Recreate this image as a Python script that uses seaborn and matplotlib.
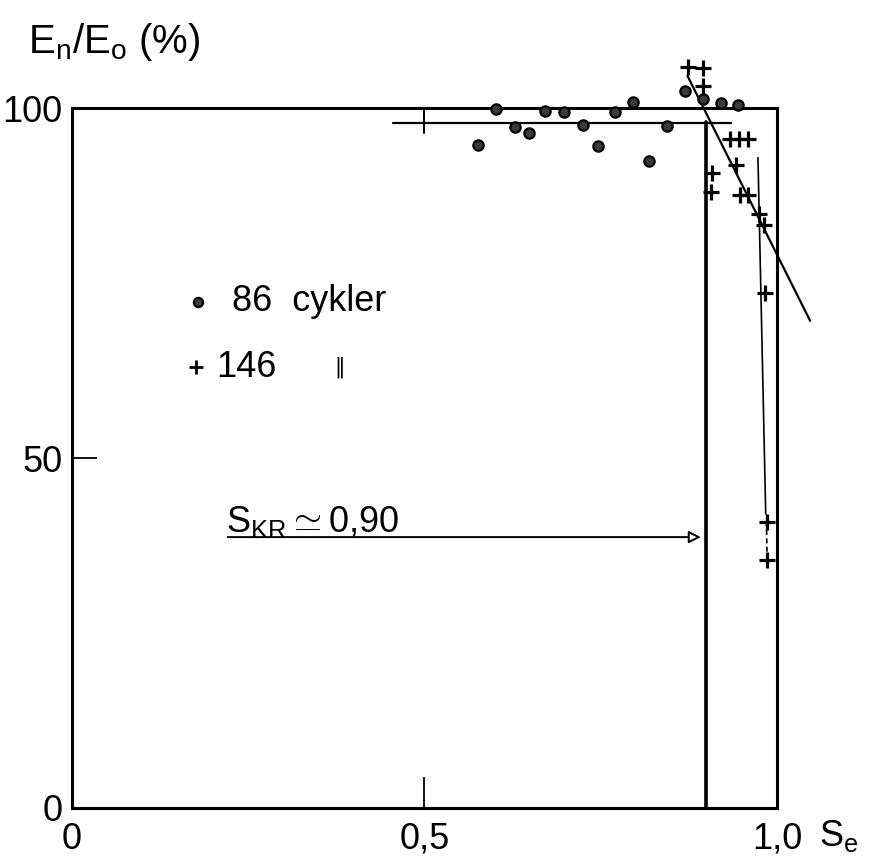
import matplotlib
matplotlib.use("Agg")
import matplotlib.pyplot as plt
import seaborn as sns

# S_e and E_n/E_o (%)
cyc86_s = [0.576, 0.601, 0.628, 0.648, 0.671, 0.698, 0.725, 0.746,
           0.770, 0.796, 0.818, 0.844, 0.870, 0.895, 0.920, 0.945]
cyc86_e = [94.7, 99.9, 97.3, 96.4, 99.6, 99.5, 97.6, 94.6,
           99.4, 100.9, 92.4, 97.4, 102.4, 101.3, 100.7, 100.4]

cyc146_s = [0.874, 0.895, 0.895, 0.933, 0.946, 0.959, 0.942, 0.908,
            0.906, 0.948, 0.959, 0.974, 0.981, 0.983, 0.986, 0.986]
cyc146_e = [105.9, 105.7, 103.1, 95.6, 95.6, 95.6, 91.9, 90.7,
            88.0, 87.6, 87.6, 84.9, 83.3, 73.6, 40.9, 35.4]

# hand-drawn fit lines
level_s = [0.455, 0.935]
level_e = [97.8, 97.8]
s_kr = 0.90
kr_e = [0, 98.0]
slope_s = [0.873, 1.047]
slope_e = [104.6, 69.6]
thin_s = [0.973, 0.984]
thin_e = [92.9, 42.0]

xticks = [0, 0.5, 1.0]
xlabels = ["0", "0,5", "1,0"]
yticks = [0, 50, 100]
ylabels = ["0", "50", "100"]
yminor = [10, 20, 30, 40, 60, 70, 80, 90]

sns.set_theme(style="white")
plt.rcParams["font.family"] = ["Liberation Sans", "DejaVu Sans"]
plt.rcParams["mathtext.fontset"] = "custom"
plt.rcParams["mathtext.rm"] = "Liberation Sans"
plt.rcParams["text.color"] = "black"

FS = 26

fig = plt.figure(figsize=(8.8, 8.65), dpi=100)
ax = fig.add_axes([0, 0, 1, 1])
ax.set_xlim(-0.1021, 1.1461)
ax.set_ylim(-8.143, 115.43)

# frame: box from 0..1 and 0..100
for side in ["left", "bottom", "top", "right"]:
    ax.spines[side].set_color("black")
    ax.spines[side].set_linewidth(2.2)
ax.spines["left"].set_position(("data", 0))
ax.spines["bottom"].set_position(("data", 0))
ax.spines["top"].set_position(("data", 100))
ax.spines["right"].set_position(("data", 1.0))
ax.spines["left"].set_bounds(0, 100)
ax.spines["right"].set_bounds(0, 100)
ax.spines["bottom"].set_bounds(0, 1.0)
ax.spines["top"].set_bounds(0, 1.0)

ax.set_xticks(xticks, xlabels)
ax.set_yticks(yticks, ylabels)
ax.set_yticks(yminor, minor=True)
ax.tick_params(axis="x", direction="in", length=22, width=1.3, pad=10,
               labelsize=FS, colors="black", top=False, bottom=True)
ax.tick_params(axis="y", direction="in", length=18, width=1.3, pad=7,
               labelsize=FS, colors="black", right=False, left=True)
ax.tick_params(axis="y", which="minor", direction="in", length=11, width=1.1)

# lines
ax.plot(level_s, level_e, color="black", lw=1.6)
ax.plot([0.5, 0.5], [96.4, 99.7], color="black", lw=1.4)
ax.plot([s_kr, s_kr], kr_e, color="black", lw=2.6)
ax.plot(slope_s, slope_e, color="black", lw=1.6)
ax.plot(thin_s, thin_e, color="black", lw=1.2)
ax.plot([0.985, 0.986], [40.9, 35.4], color="black", lw=1.2, ls=(0, (3, 2)))

sns.scatterplot(x=cyc86_s, y=cyc86_e, ax=ax, marker="o", s=55,
                color="#3a3a3a", edgecolor="black", linewidth=1.6, zorder=5)
sns.scatterplot(x=cyc146_s, y=cyc146_e, ax=ax, marker="+", s=130,
                color="black", linewidth=2.3, zorder=5)

# legend drawn by hand like the original
ax.scatter([0.179], [72.3], marker="o", s=45, color="#3a3a3a",
           edgecolor="black", linewidth=1.5)
ax.text(0.227, 72.3, "86  cykler", fontsize=FS, va="center", ha="left")
ax.scatter([0.176], [63.0], marker="+", s=110, color="black", linewidth=2)
ax.text(0.205, 63.0, "146", fontsize=FS, va="center", ha="left")
ax.text(0.372, 63.0, "\u2016", fontsize=15, va="center", ha="left",
        family=["DejaVu Sans"])

# critical value arrow
ax.annotate("", xy=(s_kr - 0.004, 38.7), xytext=(0.217, 38.7),
            arrowprops=dict(arrowstyle="-|>", fc="white", ec="black",
                            lw=1.4, mutation_scale=18))
ax.text(0.218, 39.4, r"$\mathregular{S_{KR}}\simeq$0,90",
        fontsize=FS, va="baseline", ha="left")

# axis titles
ax.text(-0.062, 109.4, r"$\mathregular{E_n / E_o}$ (%)", fontsize=29,
        va="center", ha="left")
ax.text(1.087, -4.0, r"$\mathregular{S_e}$", fontsize=FS, va="center",
        ha="center")

fig.savefig("out.png", dpi=100)
